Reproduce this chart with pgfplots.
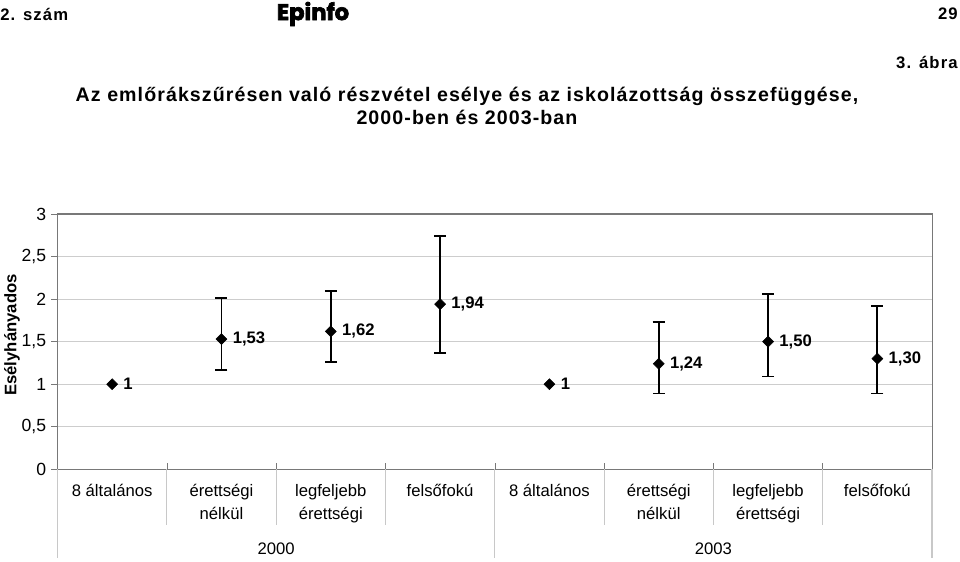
\documentclass[border=0pt]{standalone}
\usepackage{pgfplots}
\pgfplotsset{compat=1.18}
\usepackage{pgfplotstable}
\usepackage{fontspec}
\setmainfont{Liberation Sans}
\newfontfamily\spacedfont{Liberation Sans}[LetterSpace=5.5]
\newfontfamily\headfont{Liberation Sans}[LetterSpace=7]
\newfontfamily\logofont{Poppins}[FakeBold=3]
\definecolor{gridc}{RGB}{205,205,205}
\definecolor{framec}{RGB}{120,120,120}
\definecolor{sepc}{RGB}{200,200,200}

\pgfplotstableread{
x y lab
0.5 1 1
4.5 1 1
}\refpts

\pgfplotstableread{
x y ep em lab
1.5 1.53 0.48 0.36 {1,53}
2.5 1.62 0.48 0.36 {1,62}
3.5 1.94 0.80 0.57 {1,94}
5.5 1.24 0.49 0.35 {1,24}
6.5 1.50 0.56 0.41 {1,50}
7.5 1.30 0.62 0.41 {1,30}
}\errpts

\begin{document}
\begin{tikzpicture}[x=0.75pt,y=0.75pt]
\begin{axis}[
  at={(0,0)}, anchor=south west,
  scale only axis, width=655.9pt, height=191.5pt,
  xmin=0, xmax=8, ymin=0, ymax=3,
  xtick={0,1,...,8}, xticklabels={},
  x tick style={draw=framec, thin},
  xtick pos=lower, xtick align=inside,
  ytick={0,0.5,...,3},
  ytick pos=left, ytick align=outside,
  y tick style={draw=framec, thin},
  major tick length=4.5pt,
  /pgf/number format/use comma,
  /pgf/number format/fixed,
  /pgf/number format/assume math mode=true,
  yticklabel style={font=\fontsize{13.2}{14}\selectfont, xshift=-0.5pt},
  ymajorgrids, grid style={draw=gridc, line width=0.8pt},
  axis line style={draw=framec, line width=0.8pt},
  clip=false,
  nodes near coords,
  point meta=explicit symbolic,
  every node near coord/.style={anchor=west, inner sep=0pt, xshift=8.3pt, font=\fontsize{12.5}{14}\selectfont\bfseries, black},
]
\coordinate (O) at (axis cs:0,0);
\addplot[only marks, mark=square*, mark size=2.9pt, mark options={rotate=45, fill=black, draw=black}]
  table[x=x, y=y, meta=lab] {\refpts};
\addplot[only marks, black, mark=square*, mark size=2.9pt, mark options={rotate=45, fill=black, draw=black},
  error bars/.cd, y dir=both, y explicit,
  error bar style={line width=1.4pt, black},
  error mark options={rotate=90, line width=1.4pt, black, mark size=4.5pt}]
  table[x=x, y=y, y error plus=ep, y error minus=em, meta=lab] {\errpts};
\end{axis}

\begin{scope}[shift={(O)}]
\begin{scope}[shift={(-57.5,-91.7)}]
\path[use as bounding box] (0,0) rectangle (960,561);
% header
\node[anchor=west,inner sep=0,font=\headfont\fontsize{12.5}{14}\selectfont\bfseries] at (0,547) {2. szám};
\node[anchor=center,inner sep=0,font=\logofont\fontsize{17}{18}\selectfont\bfseries] at (313,547) {Epinfo};
\node[anchor=east,inner sep=0,font=\headfont\fontsize{12.5}{14}\selectfont\bfseries] at (958,547) {29};
\node[anchor=east,inner sep=0,font=\headfont\fontsize{12.5}{14}\selectfont\bfseries] at (958,499) {3. ábra};
% title
\node[anchor=center,inner sep=0,align=center,font=\spacedfont\fontsize{14.7}{17.3}\selectfont\bfseries] at (467,455)
  {Az emlőrákszűrésen való részvétel esélye és az iskolázottság összefüggése,\\2000-ben és 2003-ban};
% y label
\node[rotate=90,anchor=center,inner sep=0,font=\fontsize{12.5}{14}\selectfont\bfseries] at (12,226) {Esélyhányados};
% separators below axis
\foreach \k in {0,4,8} { \draw[sepc, line width=0.8pt] ({57.5+\k*109.31},91.7) -- ({57.5+\k*109.31},3); }
\foreach \k in {1,2,3,5,6,7} { \draw[sepc, line width=0.8pt] ({57.5+\k*109.31},91.7) -- ({57.5+\k*109.31},36); }
% category labels
\foreach \k/\t in {0/{8 általános},1/{érettségi\\nélkül},2/{legfeljebb\\érettségi},3/{felsőfokú},4/{8 általános},5/{érettségi\\nélkül},6/{legfeljebb\\érettségi},7/{felsőfokú}} {
  \node[anchor=north, inner sep=0, align=center, font=\fontsize{12.5}{17.3}\selectfont] at ({57.5+(\k+0.5)*109.31},77) {\t};
}
\node[anchor=center, inner sep=0, font=\fontsize{12.5}{14}\selectfont] at ({57.5+2*109.31},12) {2000};
\node[anchor=center, inner sep=0, font=\fontsize{12.5}{14}\selectfont] at ({57.5+6*109.31},12) {2003};
\end{scope}
\end{scope}
\end{tikzpicture}
\end{document}
